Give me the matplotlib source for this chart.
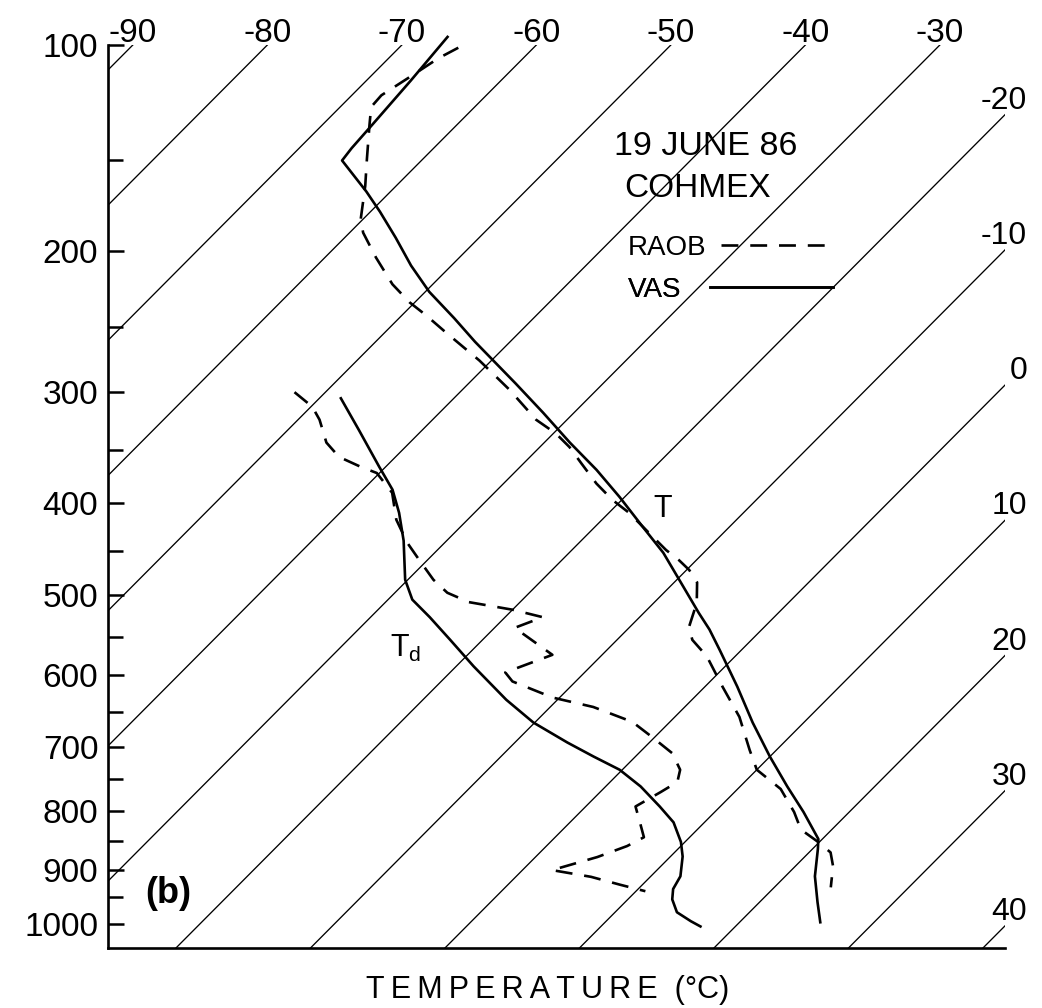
import numpy as np
import matplotlib.pyplot as plt
from matplotlib.ticker import FixedLocator, NullFormatter

plt.rcParams['font.family'] = ['Liberation Sans', 'DejaVu Sans']
plt.rcParams['mathtext.fontset'] = 'custom'
plt.rcParams['mathtext.rm'] = 'Liberation Sans'

# vertical coordinate is p**KAPPA, isotherms skewed to the right with height
KAPPA = 0.29
SKEW = 18.0
P_REF = 1000.0
P_TOP, P_BOT = 100.0, 1047.0
X_MIN, X_MAX = -26.84, 39.85

# VAS retrieval, temperature (solid)
vas_p = [97, 114, 133, 144, 150, 166, 177, 192, 209, 226, 244, 261, 293, 317,
         343, 368, 394, 424, 452, 490, 521, 541, 567, 615, 665, 715, 761, 802, 847,
         864, 912, 959, 997]
vas_t = [-67.2, -66.7, -66.3, -66.1, -65.9, -61.8, -59.3, -56.2, -53.0, -49.7,
         -45.9, -42.6, -36.5, -32.3, -28.1, -24.1, -20.4, -16.5, -13.0,
         -9.0, -5.9, -3.9, -1.6, 2.4, 6.2, 10.0, 13.5, 16.6, 19.7,
         20.4, 22.2, 24.3, 26.0]

# radiosonde, temperature (dashed)
raob_p = [101, 105, 112, 120, 125, 133, 149, 163, 181, 189, 204, 221, 233, 242, 254,
          275, 298, 323, 335, 347, 362, 381, 397, 410, 431, 449, 460, 471, 485, 509,
          538, 554, 575, 615, 657, 705, 735, 765, 802, 831, 852, 870, 894, 932]
raob_t = [-65.6, -66.3, -67.0, -67.8, -67.7, -66.5, -64.2, -62.3, -60.2, -59.0,
          -56.2, -53.0, -50.4, -48.2, -45.5, -40.9, -36.5, -32.3, -29.8, -27.8,
          -25.7, -23.1, -20.7, -18.5, -15.5, -13.0, -11.3, -9.8, -8.3, -6.8,
          -5.6, -4.4, -2.1, 1.3, 4.8, 8.0, 10.0, 13.2, 15.9, 17.7,
          19.9, 21.6, 22.8, 24.2]

# VAS retrieval, dewpoint
vas_td_p = [305, 332, 365, 387, 410, 439, 482, 505, 526, 554, 588, 633, 665, 694,
            715, 735, 761, 793, 819, 852, 877, 912, 935, 954, 978, 995, 1005]
vas_td = [-48.4, -44.7, -40.5, -37.8, -35.6, -33.2, -30.2, -28.2, -25.6, -22.4,
          -18.7, -13.8, -10.1, -6.1, -3.1, -0.2, 2.6, 5.5, 7.7, 9.7,
          10.9, 12.2, 12.6, 13.3, 14.6, 16.3, 17.4]

# radiosonde, dewpoint
raob_td_p = [300, 312, 323, 343, 356, 365, 371, 390, 417, 441, 460, 482, 497, 508,
             517, 526, 539, 573, 596, 608, 630, 643, 664, 686, 710, 735, 754, 770,
             793, 819, 844, 859, 878, 901, 913, 927, 939]
raob_td = [-52.3, -49.9, -48.4, -46.2, -44.2, -41.9, -40.2, -37.6, -35.3, -32.8,
           -30.6, -28.1, -26.1, -23.8, -20.0, -17.2, -18.5, -13.7, -15.9, -14.7,
           -10.5, -6.8, -2.8, -0.2, 2.5, 4.3, 5.0, 4.5, 3.7, 5.2,
           6.6, 6.0, 4.6, 2.2, 5.6, 8.3, 10.7]

isotherms = list(range(-90, 50, 10))
p_major = list(range(100, 1001, 100))
p_minor = list(range(150, 1000, 100))


def skew_x(t, p):
    p = np.asarray(p, dtype=float)
    return np.asarray(t, dtype=float) + SKEW * (P_REF ** KAPPA - p ** KAPPA)


def fwd(p):
    return np.power(np.clip(p, 1e-6, None), KAPPA)


def inv(y):
    return np.power(np.clip(y, 1e-6, None), 1.0 / KAPPA)


fig = plt.figure(figsize=(10.42, 10.08), dpi=100)
ax = fig.add_axes([0.10365, 0.0595, 0.86084, 0.8958])
ax.set_yscale('function', functions=(fwd, inv))
ax.set_ylim(P_BOT, P_TOP)
ax.set_xlim(X_MIN, X_MAX)

# isotherms with their labels along the top and right edges
p_ends = np.array([P_TOP, P_BOT])
for t in isotherms:
    ax.plot(skew_x(t, p_ends), p_ends, color='black', lw=0.95, zorder=1)
    x_top = float(skew_x(t, P_TOP))
    if x_top <= X_MAX:
        ax.annotate(str(t), (x_top, P_TOP), xytext=(0, 2), textcoords='offset points',
                    ha='center', va='baseline', fontsize=24, annotation_clip=False)
    else:
        p_edge = inv(P_REF ** KAPPA - (X_MAX - t) / SKEW)
        ax.annotate(str(t), (X_MAX, p_edge), xytext=(16, 10), textcoords='offset points',
                    ha='right', va='center', fontsize=23, annotation_clip=False)

dash = (0, (6.4, 4.5))
l_vas, = ax.plot(skew_x(vas_t, vas_p), vas_p, color='black', lw=1.9,
                 clip_on=False, zorder=3)
l_raob, = ax.plot(skew_x(raob_t, raob_p), raob_p, color='black', lw=1.9,
                  ls=dash, clip_on=False, zorder=3)
ax.plot(skew_x(vas_td, vas_td_p), vas_td_p, color='black', lw=1.9, zorder=3)
ax.plot(skew_x(raob_td, raob_td_p), raob_td_p, color='black', lw=1.9, ls=dash, zorder=3)

# pressure axis
ax.yaxis.set_major_locator(FixedLocator(p_major))
ax.yaxis.set_minor_locator(FixedLocator(p_minor))
ax.set_yticklabels([str(p) for p in p_major])
ax.yaxis.set_minor_formatter(NullFormatter())
ax.tick_params(axis='y', which='major', direction='in', length=11.5, width=1.8,
               pad=7, labelsize=24)
ax.tick_params(axis='y', which='minor', direction='in', length=10.5, width=1.8)
ax.set_xticks([])
for side in ['top', 'right']:
    ax.spines[side].set_visible(False)
for side in ['left', 'bottom']:
    ax.spines[side].set_linewidth(1.9)

xlabel = '\u2009'.join('TEMPERATURE') + '  (°C)'
ax.set_xlabel(xlabel, fontsize=22, va='top')
ax.xaxis.set_label_coords(0.49, -0.030)

# annotations
ax.text(0.6667, 0.8782, '19 JUNE 86', transform=ax.transAxes, ha='center',
        va='baseline', fontsize=24.5)
ax.text(0.6577, 0.8317, 'COHMEX', transform=ax.transAxes, ha='center',
        va='baseline', fontsize=24)
ax.text(0.6187, 0.4773, 'T', transform=ax.transAxes, ha='center',
        va='baseline', fontsize=22)
ax.text(0.3144, 0.3223, r'T$_\mathrm{d}$', transform=ax.transAxes, ha='left',
        va='baseline', fontsize=22)
ax.text(0.0669, 0.0609, '(b)', transform=ax.transAxes, ha='center',
        va='center', fontsize=26, fontweight='bold')

# legend: one entry per box so the labels line up on the left
leg_rows = [(l_raob, 'RAOB', 0.7540, 4.05, 0.5), (l_vas, 'VAS', 0.7123, 4.42, 1.04)]
for handle, name, y_anchor, hlen, hpad in leg_rows:
    leg = ax.legend([handle], [name], loc='center left', markerfirst=False,
                    bbox_to_anchor=(0.6027, y_anchor), bbox_transform=fig.transFigure,
                    frameon=False, fontsize=20, handlelength=hlen, handletextpad=hpad,
                    borderpad=0, borderaxespad=0)
    ax.add_artist(leg)

fig.savefig('out.png', dpi=100)
